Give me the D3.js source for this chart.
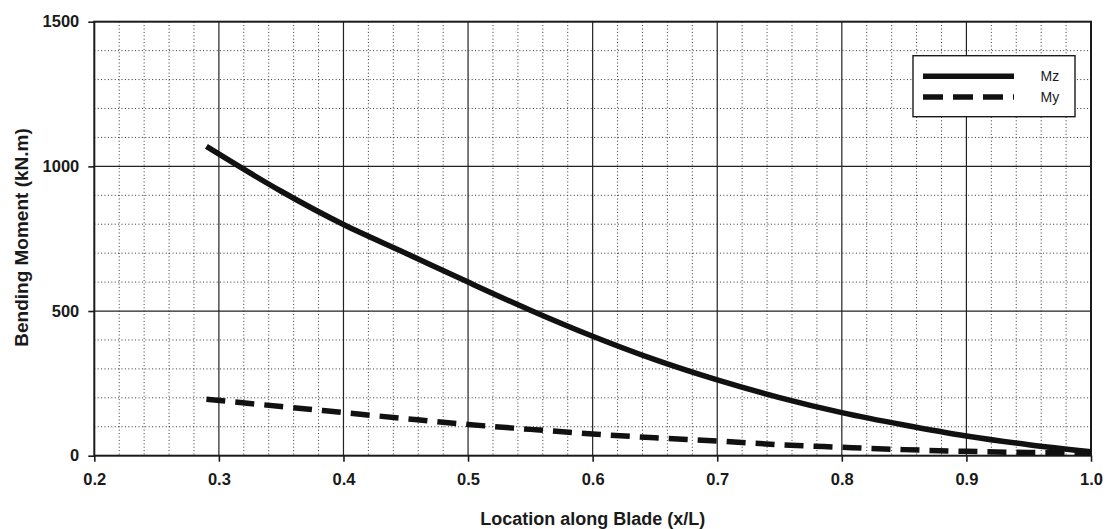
<!DOCTYPE html>
<html>
<head>
<meta charset="utf-8">
<script src="https://cdn.jsdelivr.net/npm/d3@7/dist/d3.min.js"></script>
<style>
  html, body { margin: 0; padding: 0; background: #fff; }
  svg { display: block; }
  text { font-family: "Liberation Sans", Arial, sans-serif; fill: #1a1a1a; }
</style>
</head>
<body>
<svg id="chart" width="1107" height="529"></svg>
<script>
// Spanwise location along the blade (x/L)
const locations = [0.29, 0.35, 0.40, 0.45, 0.50, 0.55, 0.60, 0.65, 0.70, 0.75, 0.80, 0.85, 0.90, 0.95, 1.00];
// Bending moments (kN.m)
const mzValues = [1069, 914, 799, 700, 600, 503, 413, 332, 262, 201, 149, 106, 68, 38, 14];
const myValues = [195, 170, 149, 128, 108, 91, 75, 62, 51, 38, 29, 21, 15, 11, 9];

const xTicks = [0.2, 0.3, 0.4, 0.5, 0.6, 0.7, 0.8, 0.9, 1.0];
const xTickLabels = ["0.2", "0.3", "0.4", "0.5", "0.6", "0.7", "0.8", "0.9", "1.0"];
const yTicks = [0, 500, 1000, 1500];
const yTickLabels = ["0", "500", "1000", "1500"];

const seriesNames = ["Mz", "My"];
const xTitle = "Location along Blade (x/L)";
const yTitle = "Bending Moment (kN.m)";

const svg = d3.select("#chart");
const W = 1107, H = 529;
const margin = { left: 94.3, right: W - 1091, top: 21.7, bottom: H - 455.7 };

const x = d3.scaleLinear().domain([0.2, 1.0]).range([margin.left, W - margin.right]);
const y = d3.scaleLinear().domain([0, 1500]).range([H - margin.bottom, margin.top]);

const g = svg.append("g");

// minor grid: dotted, every 0.02 and every 100 kN.m
const minorX = d3.range(0.2, 1.0001, 0.02).filter(v => Math.abs(Math.round(v * 10) - v * 10) > 1e-6);
const minorY = d3.range(0, 1501, 100).filter(v => v % 500 !== 0);

g.selectAll("line.minor-x").data(minorX).join("line")
  .attr("x1", d => x(d)).attr("x2", d => x(d))
  .attr("y1", y(1500)).attr("y2", y(0))
  .attr("stroke", "#333").attr("stroke-width", 1).attr("stroke-dasharray", "1,2.4");

g.selectAll("line.minor-y").data(minorY).join("line")
  .attr("x1", x(0.2)).attr("x2", x(1.0))
  .attr("y1", d => y(d)).attr("y2", d => y(d))
  .attr("stroke", "#333").attr("stroke-width", 1).attr("stroke-dasharray", "1,2.4");

// major grid: solid
g.selectAll("line.major-x").data(xTicks.slice(1, -1)).join("line")
  .attr("x1", d => x(d)).attr("x2", d => x(d))
  .attr("y1", y(1500)).attr("y2", y(0))
  .attr("stroke", "#222").attr("stroke-width", 1.2);

g.selectAll("line.major-y").data(yTicks.slice(1, -1)).join("line")
  .attr("x1", x(0.2)).attr("x2", x(1.0))
  .attr("y1", d => y(d)).attr("y2", d => y(d))
  .attr("stroke", "#222").attr("stroke-width", 1.2);

// axes
const xAxis = d3.axisBottom(x).tickValues(xTicks).tickSize(6)
  .tickFormat((d, i) => xTickLabels[i]).tickPadding(12);
const yAxis = d3.axisLeft(y).tickValues(yTicks).tickSize(6)
  .tickFormat((d, i) => yTickLabels[i]).tickPadding(9);

const gx = svg.append("g").attr("transform", `translate(0,${y(0)})`).call(xAxis);
const gy = svg.append("g").attr("transform", `translate(${x(0.2)},0)`).call(yAxis);
[gx, gy].forEach(a => {
  a.select(".domain").remove();
  a.selectAll(".tick line").attr("stroke", "#1a1a1a").attr("stroke-width", 1.6);
  a.selectAll(".tick text")
    .attr("font-size", 16.5).attr("font-weight", "bold")
    .attr("fill", "#1a1a1a")
    .style("font-family", "'Liberation Sans', Arial, sans-serif");
});

// plot frame
svg.append("rect")
  .attr("x", x(0.2)).attr("y", y(1500))
  .attr("width", x(1.0) - x(0.2)).attr("height", y(0) - y(1500))
  .attr("fill", "none").attr("stroke", "#1a1a1a").attr("stroke-width", 2);

// series lines
const line = d3.line().curve(d3.curveCatmullRom.alpha(0.5))
  .x(d => x(d[0])).y(d => y(d[1]));

const plot = svg.append("g");
plot.append("path")
  .datum(locations.map((v, i) => [v, mzValues[i]]))
  .attr("d", line).attr("fill", "none")
  .attr("stroke", "#111").attr("stroke-width", 5.5);

plot.append("path")
  .datum(locations.map((v, i) => [v, myValues[i]]))
  .attr("d", line).attr("fill", "none")
  .attr("stroke", "#111").attr("stroke-width", 5.5)
  .attr("stroke-dasharray", "19,10");

// legend
const lg = svg.append("g").attr("transform", "translate(913,55.7)");
lg.append("rect").attr("width", 162).attr("height", 61)
  .attr("fill", "#fff").attr("stroke", "#1a1a1a").attr("stroke-width", 1.4);
const legendRows = [
  { name: seriesNames[0], dash: null, yy: 20.6 },
  { name: seriesNames[1], dash: "20,10", yy: 41.3 }
];
legendRows.forEach(r => {
  lg.append("line").attr("x1", 10).attr("x2", 101)
    .attr("y1", r.yy).attr("y2", r.yy)
    .attr("stroke", "#111").attr("stroke-width", 5.5)
    .attr("stroke-dasharray", r.dash);
  lg.append("text").attr("x", 127.5).attr("y", r.yy + 5.2)
    .attr("font-size", 14).text(r.name);
});

// axis titles
svg.append("text")
  .attr("x", (x(0.2) + x(1.0)) / 2).attr("y", 525)
  .attr("text-anchor", "middle").attr("font-size", 18).attr("font-weight", "bold")
  .text(xTitle);

svg.append("text")
  .attr("transform", `translate(28,${237.5}) rotate(-90)`)
  .attr("text-anchor", "middle").attr("font-size", 19).attr("font-weight", "bold")
  .text(yTitle);
</script>
</body>
</html>
